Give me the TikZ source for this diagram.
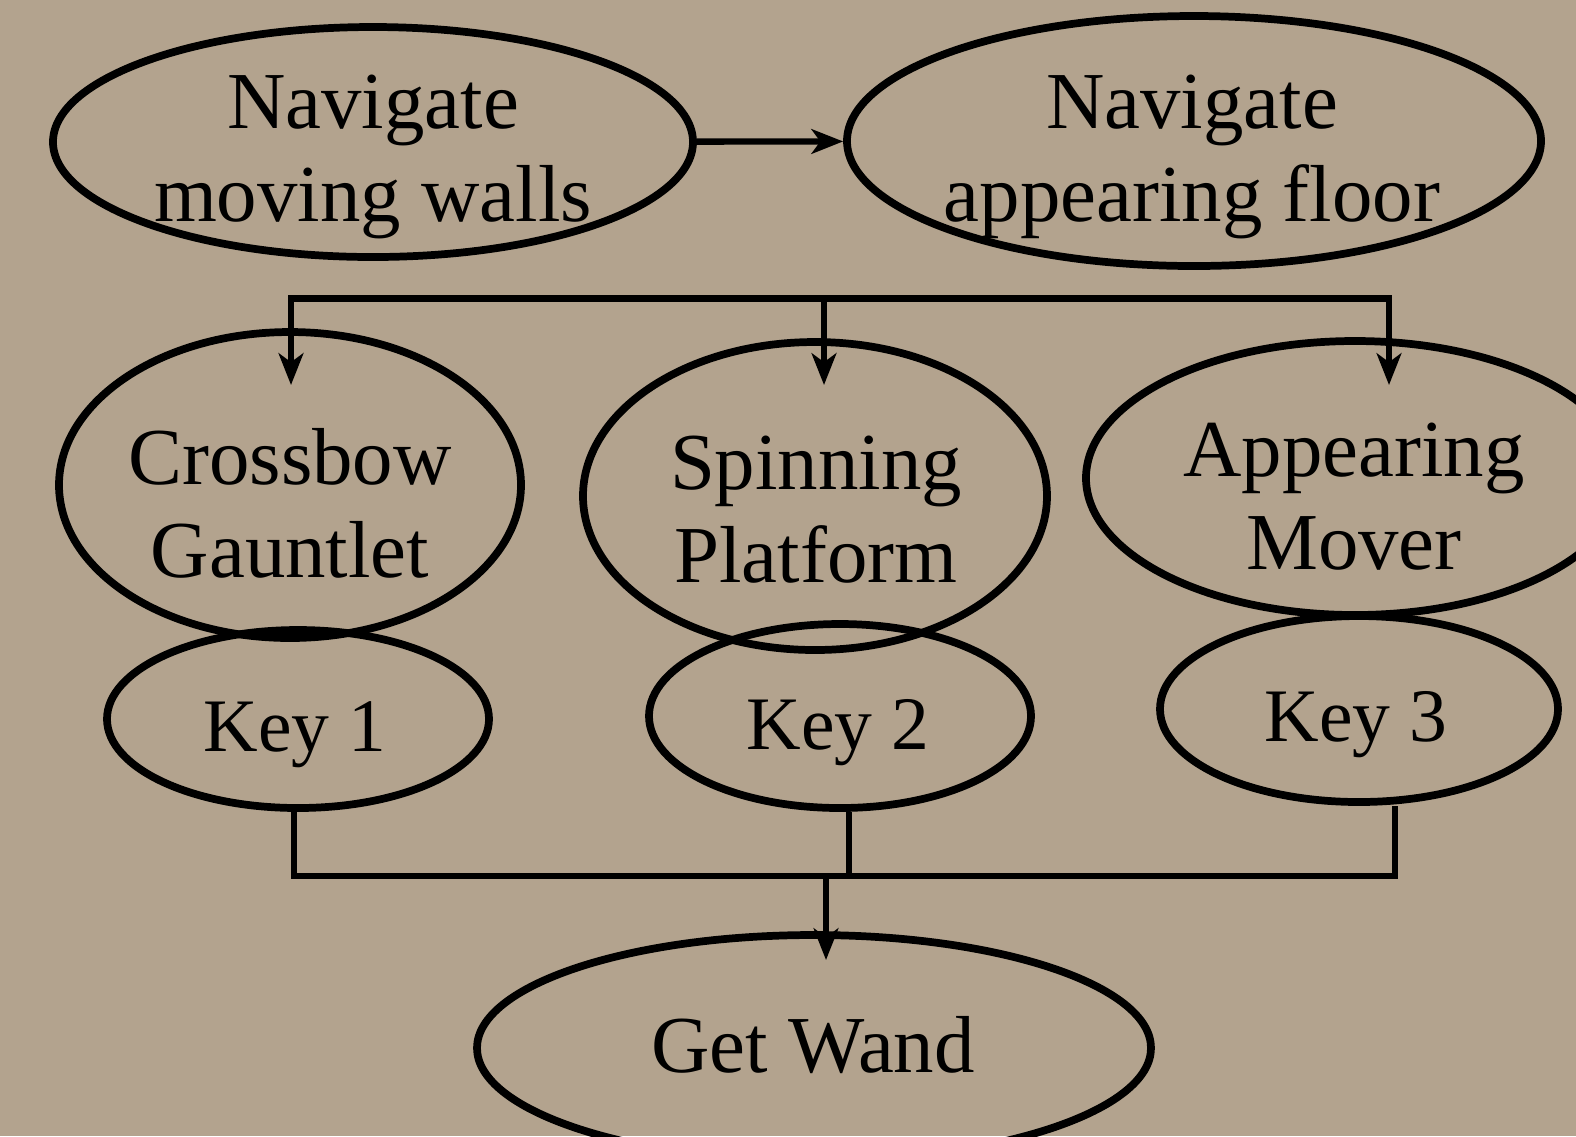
\documentclass[tikz,border=0pt]{standalone}
\usepackage{fontspec}
\setmainfont{Liberation Serif}
\usetikzlibrary{shapes.geometric,arrows.meta}
\definecolor{parchment}{RGB}{179,163,142}

\begin{document}
\begin{tikzpicture}[stage/.style={ellipse, draw=black, line width=2.2pt, inner sep=0pt}, caption/.style={font=\fontsize{23}{26.5}\selectfont, align=center, inner sep=0pt}, key caption/.style={caption, font=\fontsize{21.5}{26.5}\selectfont}, link/.style={line width=1.8pt}, flow/.style={link, -{Stealth[length=9pt,width=7pt,inset=2.5pt]}}]%
\path[use as bounding box] (0,0) rectangle (15.76,-11.36);%
\fill[parchment] (0,0) rectangle (15.76,-11.36);%
\clip (0,0) rectangle (15.76,-11.36);%
  % Corridor%
\node[stage, minimum width=6.40cm, minimum height=2.30cm] (walls) at (3.73,-1.42) {};%
\node[caption] (walls text) at (3.73,-1.57) {Navigate\\moving walls};%
\node[stage, minimum width=6.94cm, minimum height=2.50cm] (floor) at (11.94,-1.41) {};%
\node[caption] (floor text) at (11.92,-1.57) {Navigate\\appearing floor};%
  % Trials%
\node[stage, minimum width=4.62cm, minimum height=3.06cm] (crossbow) at (2.90,-4.85) {};%
\node[caption] (crossbow text) at (2.90,-5.03) {Crossbow\\Gauntlet};%
\node[stage, minimum width=4.64cm, minimum height=3.08cm] (spinning) at (8.15,-4.96) {};%
\node[caption] (spinning text) at (8.16,-5.10) {Spinning\\Platform};%
\node[stage, minimum width=5.38cm, minimum height=2.74cm] (appearing) at (13.55,-4.78) {};%
\node[caption] (appearing text) at (13.54,-4.97) {Appearing\\Mover};%
  % Keys%
\node[stage, minimum width=3.82cm, minimum height=1.78cm] (key1) at (2.98,-7.19) {};%
\node[key caption] (key1 text) at (2.95,-7.35) {Key 1};%
\node[stage, minimum width=3.82cm, minimum height=1.84cm] (key2) at (8.40,-7.16) {};%
\node[key caption] (key2 text) at (8.38,-7.33) {Key 2};%
\node[stage, minimum width=3.98cm, minimum height=1.86cm] (key3) at (13.59,-7.09) {};%
\node[key caption] (key3 text) at (13.56,-7.25) {Key 3};%
  % Goal%
\node[stage, minimum width=6.74cm, minimum height=2.26cm] (wand) at (8.14,-10.48) {};%
\node[caption] (wand text) at (8.13,-10.45) {Get Wand};%
  % Branching after the floor%
\coordinate (fork) at (8.24,-2.985);%
\coordinate (crossbow in) at (2.91,-3.85);%
\coordinate (spinning in) at (8.24,-3.85);%
\coordinate (appearing in) at (13.89,-3.85);%
\coordinate (merge) at (8.26,-8.76);%
\coordinate (wand in) at (8.26,-9.60);%
\draw[flow] (walls) -- (floor);%
\draw[flow] (fork) -| (crossbow in);%
\draw[flow] (fork) -- (spinning in);%
\draw[flow] (fork) -| (appearing in);%
\draw[link] ([xshift=-0.04cm]key1.south) |- (merge) -| ([xshift=0.36cm]key3.south);%
\draw[link] ([xshift=0.09cm]key2.south) |- (merge);%
\draw[flow] (merge) -- (wand in);%
\end{tikzpicture}
\end{document}
